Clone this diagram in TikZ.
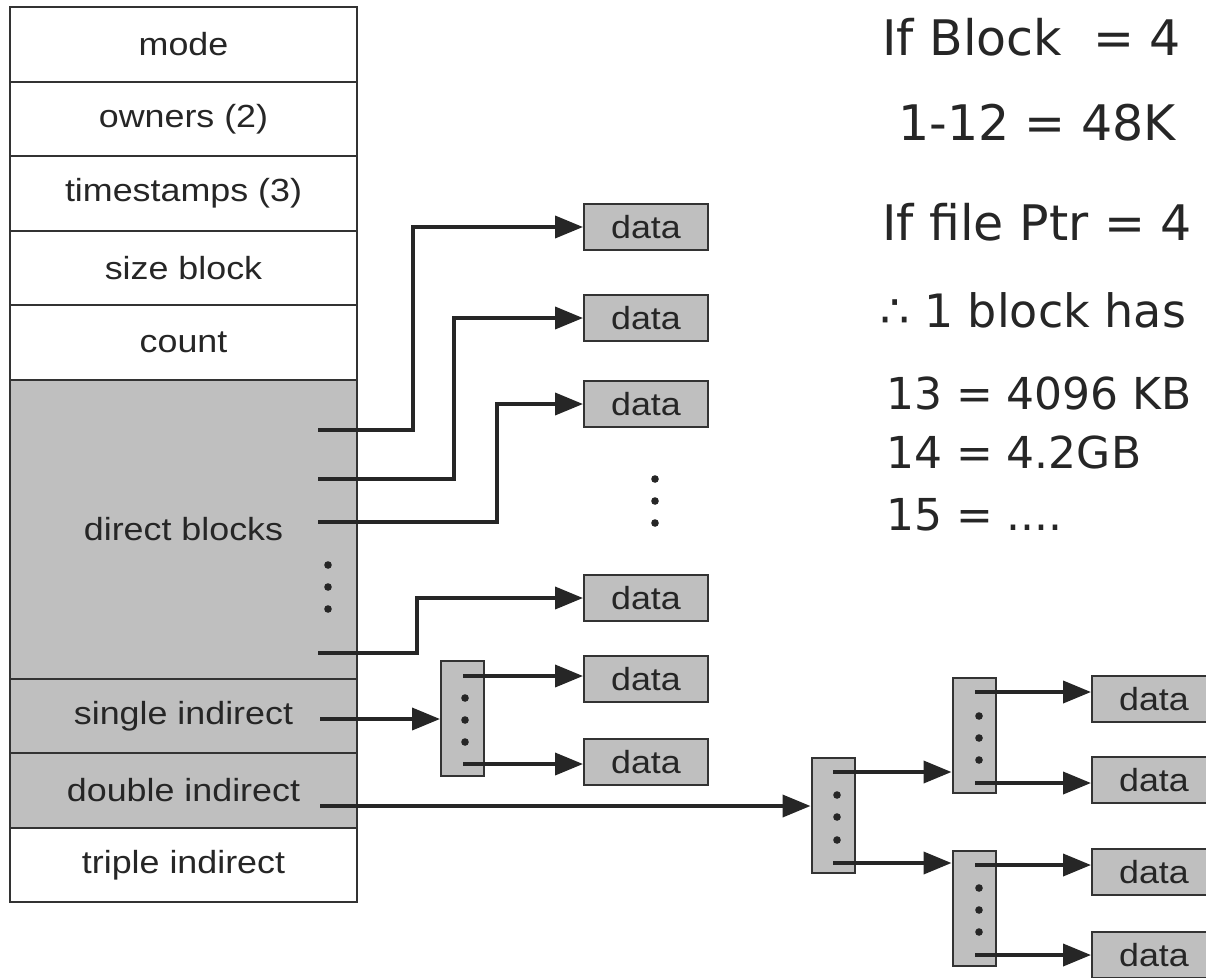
\documentclass[tikz,border=0pt]{standalone}
\usepackage{fontspec}
\setmainfont{Liberation Sans}[FakeStretch=1.12]
\newfontfamily\notefont{DejaVu Sans}
\usetikzlibrary{arrows.meta}

\begin{document}
\begin{tikzpicture}[x=1pt, y=-1pt,
  field/.style={draw=black!80, line width=1.8pt, minimum width=347pt, minimum height=74.5pt, inner sep=0pt, text=black!85, font=\fontsize{32}{36}\selectfont},
  shaded/.style={fill=black!25},
  datablk/.style={draw=black!80, line width=2pt, fill=black!25, minimum width=124pt, minimum height=46pt, inner sep=0pt, text=black!85, font=\fontsize{32}{36}\selectfont},
  indexblk/.style={draw=black!80, line width=2pt, fill=black!25, minimum width=43pt, minimum height=115pt, inner sep=0pt},
  ptr/.style={draw=black!85, line width=3.8pt, -{Triangle[length=28pt, width=22pt]}},
  note/.style={anchor=west, inner sep=0pt, text=black!85, font=\notefont\fontsize{44}{48}\selectfont},
  bignote/.style={note, font=\notefont\fontsize{49}{54}\selectfont}]
\useasboundingbox (0,0) rectangle (1206,977);
\clip (0,0) rectangle (1206,977);
\fill[white] (0,0) rectangle (1206,977);
\node[field] (mode) at (183.5,44.5) {mode};
\node[field] (owners) at (183.5,119) {owners (2)};
\node[field] (stamps) at (183.5,193.5) {timestamps (3)};
\node[field] (size) at (183.5,268) {size block};
\node[field] (count) at (183.5,342.5) {count};
\node[field, shaded, minimum height=299pt] (direct) at (183.5,529.5) {direct blocks};
\node[field, shaded] (single) at (183.5,716) {single indirect};
\node[field, shaded] (double) at (183.5,790.5) {double indirect};
\node[field] (triple) at (183.5,865) {triple indirect};
\fill[black!85] (328,565) circle (3.8);
\fill[black!85] (328,587) circle (3.8);
\fill[black!85] (328,609) circle (3.8);
\coordinate (db1) at (318,430);
\coordinate (db2) at (318,479);
\coordinate (db3) at (318,522);
\coordinate (db4) at (318,653);
\coordinate (si) at (320,719);
\coordinate (di) at (320,806);
\node[datablk] (d1) at (646,227) {data};
\node[datablk] (d2) at (646,318) {data};
\node[datablk] (d3) at (646,404) {data};
\fill[black!85] (655,479) circle (3.8);
\fill[black!85] (655,501) circle (3.8);
\fill[black!85] (655,523) circle (3.8);
\node[datablk] (d4) at (646,598) {data};
\node[datablk] (d5) at (646,679) {data};
\node[datablk] (d6) at (646,762) {data};
\draw[ptr] (db1) -- ++(95,0) |- (d1.west);
\draw[ptr] (db2) -- ++(136,0) |- (d2.west);
\draw[ptr] (db3) -- ++(179,0) |- (d3.west);
\draw[ptr] (db4) -- ++(99,0) |- (d4.west);
\node[indexblk] (ib1) at (462.5,718.5) {};
\fill[black!85] (465,698) circle (3.8);
\fill[black!85] (465,720) circle (3.8);
\fill[black!85] (465,742) circle (3.8);
\coordinate (ib1a) at (463,676);
\coordinate (ib1b) at (463,764);
\draw[ptr] (si) -- (si -| ib1.west);
\draw[ptr] (ib1a) -- (ib1a -| d5.west);
\draw[ptr] (ib1b) -- (ib1b -| d6.west);
\node[indexblk] (ib2) at (833,815) {};
\fill[black!85] (837,795) circle (3.8);
\fill[black!85] (837,817) circle (3.8);
\fill[black!85] (837,840) circle (3.8);
\node[indexblk] (ib3) at (974,735.5) {};
\fill[black!85] (979,716) circle (3.8);
\fill[black!85] (979,738) circle (3.8);
\fill[black!85] (979,760) circle (3.8);
\node[indexblk] (ib4) at (974,908.5) {};
\fill[black!85] (979,888) circle (3.8);
\fill[black!85] (979,910) circle (3.8);
\fill[black!85] (979,932) circle (3.8);
\coordinate (ib2a) at (833,772);
\coordinate (ib2b) at (833,863);
\coordinate (ib3a) at (975,692);
\coordinate (ib3b) at (975,783);
\coordinate (ib4a) at (975,865);
\coordinate (ib4b) at (975,955);
\node[datablk] (r1) at (1154,699) {data};
\node[datablk] (r2) at (1154,780) {data};
\node[datablk] (r3) at (1154,872) {data};
\node[datablk] (r4) at (1154,955) {data};
\draw[ptr] (di) -- (di -| ib2.west);
\draw[ptr] (ib2a) -- (ib2a -| ib3.west);
\draw[ptr] (ib2b) -- (ib2b -| ib4.west);
\draw[ptr] (ib3a) -- (ib3a -| r1.west);
\draw[ptr] (ib3b) -- (ib3b -| r2.west);
\draw[ptr] (ib4a) -- (ib4a -| r3.west);
\draw[ptr] (ib4b) -- (ib4b -| r4.west);
\node[bignote] (n1) at (882,37) {If Block~~=~4};
\node[bignote] (n2) at (898,123) {1-12~=~48K};
\node[bignote] (n3) at (882,222) {If file Ptr = 4};
\node[note, font=\notefont\fontsize{46}{50}\selectfont] (n4) at (880,310) {∴ 1 block has};
\node[note] (n5) at (886,393) {13 = 4096 KB};
\node[note] (n6) at (886,452) {14 = 4.2GB};
\node[note] (n7) at (886,515) {15 = ....};
\end{tikzpicture}
\end{document}
